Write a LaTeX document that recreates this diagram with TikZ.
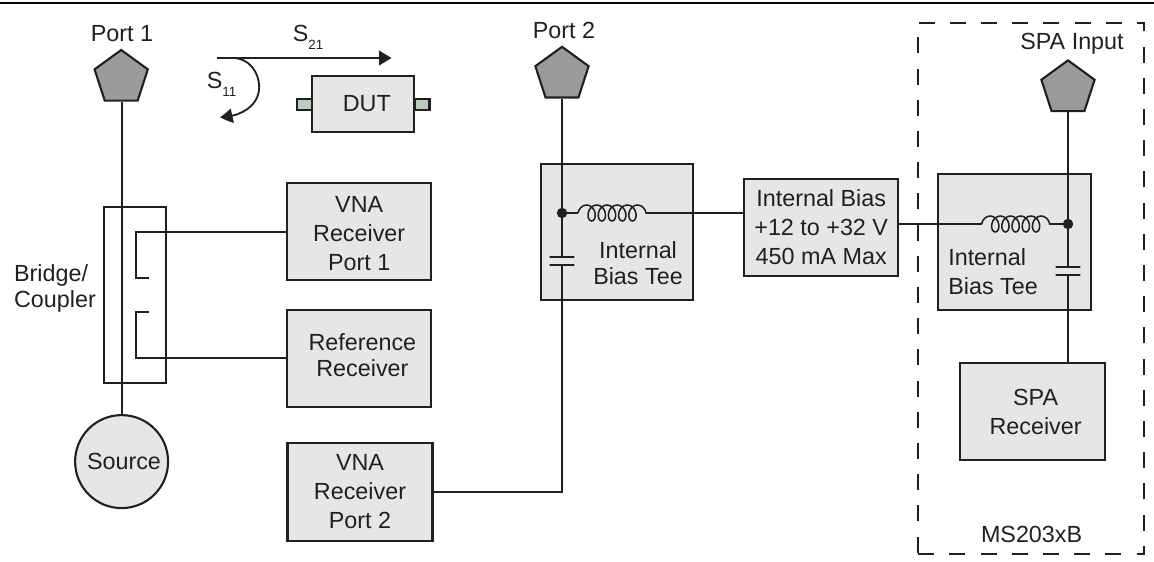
\documentclass[tikz,border=0pt]{standalone}
\usepackage{fontspec}
\setmainfont{Liberation Sans}
\usetikzlibrary{arrows.meta,positioning,shapes.geometric,decorations.pathmorphing,bending}
\definecolor{inkK}{RGB}{35,31,32}
\definecolor{boxG}{RGB}{229,231,230}
\definecolor{portG}{RGB}{154,155,157}
\definecolor{stubG}{RGB}{188,203,192}
\newcommand{\Sparam}[1]{S\raisebox{-5.5pt}{\fontsize{9.5}{10}\selectfont #1}}

\begin{document}
\begin{tikzpicture}[
    every node/.style={font=\fontsize{16.6}{20.6}\selectfont, text=inkK},
    box/.style={draw=inkK, line width=1.5pt, rectangle, inner sep=0pt,
                fill=boxG, align=center},
    port/.style={draw=inkK, line width=1.5pt, regular polygon, regular polygon sides=5,
                inner sep=0pt, minimum size=1.4cm, fill=portG},
    stub/.style={draw=inkK, line width=1.5pt, rectangle, inner sep=0pt,
                minimum width=3.75mm, minimum height=2.75mm, fill=stubG},
    plate/.style={draw=inkK, line width=1.3pt, rectangle, inner sep=0pt, outer sep=0pt,
                minimum width=6.2mm, minimum height=0pt},
    junction/.style={circle, fill=inkK, inner sep=0pt, minimum size=2.6mm},
    wire/.style={draw=inkK, line width=1.3pt},
    coilwire/.style={wire, line width=1.1pt, decorate, decoration={coil, aspect=0.75,
                amplitude=2mm, segment length=2.55mm, pre length=0mm, post length=0mm}},
    arrow/.style={-{Triangle[length=3.1mm,width=3.6mm,bend]}, draw=inkK, line width=1.3pt},
    tag/.style={inner sep=0pt, align=center},
    tighttag/.style={tag, font=\fontsize{16.6}{18.5}\selectfont}
]
  \useasboundingbox (0,0) rectangle (28.85,-14.05);

  % --- Rule along the top edge ---
  \coordinate (ruleL) at (0,-0.07);
  \coordinate (ruleR) at (28.85,-0.07);
  \draw[line width=1.7pt, draw=black] (ruleL) -- (ruleR);

  % --- Dashed instrument group ---
  \node[draw=inkK, line width=1.4pt, dash pattern=on 4mm off 3.8mm, rectangle, inner sep=0pt,
        minimum width=56.5mm, minimum height=132.9mm] (group) at (25.78,-7.21) {};
  \node[tag] (groupName) at (25.79,-13.35) {MS203xB};

  % --- Ports ---
  \node[port] (port1) at (3.03,-1.95) {};
  \node[port] (port2) at (14.05,-1.87) {};
  \node[port] (spaIn) at (26.7,-2.21) {};
  \node[tag] (port1Name) at (3.05,-0.83) {Port 1};
  \node[tag] (port2Name) at (14.1,-0.77) {Port 2};
  \node[tag] (spaInName) at (26.8,-1.09) {SPA Input};

  % --- DUT with its two stubs ---
  \node[stub] (dutL) at (7.61,-2.62) {};
  \node[stub] (dutR) at (10.55,-2.62) {};
  \node[box, minimum width=25.6mm, minimum height=14.1mm] (dut) at (9.08,-2.6) {};
  \node[tag] (dutName) at (9.17,-2.6) {DUT};

  % --- S-parameter arrows ---
  \coordinate (s21A) at (5.43,-1.45);
  \coordinate (s21B) at (9.79,-1.45);
  \coordinate (s11A) at (5.83,-1.45);
  \coordinate (s11M) at (6.48,-2.18);
  \coordinate (s11B) at (5.5,-2.93);
  \draw[arrow] (s21A) -- (s21B);
  \draw[arrow] (s11A) to[out=0,in=90] (s11M) to[out=-90,in=0] (s11B);
  \node[tag] (s21Name) at (7.7,-0.93) {\Sparam{21}};
  \node[tag] (s11Name) at (5.54,-2.1) {\Sparam{11}};

  % --- Receivers ---
  \node[box, minimum width=36mm, minimum height=24.25mm] (vna1) at (8.975,-5.79) {};
  \node[tag] (vna1Name) at (8.98,-5.84) {VNA\\Receiver\\Port 1};
  \node[box, minimum width=36.1mm, minimum height=24.2mm] (refRx) at (8.97,-8.96) {};
  \node[tighttag] (refRxName) at (9.06,-8.89) {Reference\\Receiver};
  \node[box, minimum width=36.25mm, minimum height=24.35mm] (vna2) at (9.0,-12.3)
    {VNA\\Receiver\\Port 2};

  % --- Source and bridge ---
  \node[box, circle, minimum size=23.25mm] (source) at (3.04,-11.54) {};
  \node[tag] (sourceName) at (3.1,-11.53) {Source};
  \node[draw=inkK, line width=1.5pt, rectangle, inner sep=0pt,
        minimum width=15.4mm, minimum height=44.1mm] (bridge) at (3.38,-7.38) {};
  \node[tighttag, align=left] (bridgeName) at (1.375,-7.22) {Bridge/\\Coupler};

  % --- Bias tees and bias supply ---
  \node[box, minimum width=38mm, minimum height=34mm] (teeA) at (15.42,-5.8) {};
  \node[tighttag] (teeAName) at (15.95,-6.58) {Internal\\Bias Tee};
  \node[box, minimum width=38.6mm, minimum height=24.2mm] (bias) at (20.53,-5.68)
    {\fontsize{16.6}{18}\selectfont Internal Bias\\+12 to +32 V\\450 mA Max};
  \node[box, minimum width=38.1mm, minimum height=34.2mm] (teeB) at (25.36,-6.05) {};
  \node[tag, align=left, anchor=west] (teeBName) at (23.7,-6.79) {Internal\\Bias Tee};
  \node[box, minimum width=36.25mm, minimum height=24.25mm] (spaRx) at (25.82,-10.295) {};
  \node[tag] (spaRxName) at (25.89,-10.3) {SPA\\Receiver};

  % --- Tee parts ---
  \node[junction] (dotA) at (14.05,-5.325) {};
  \node[junction] (dotB) at (26.7,-5.6) {};
  \node[plate] (capAtop) at (14.05,-6.42) {};
  \node[plate] (capAbot) at (14.05,-6.625) {};
  \node[plate] (capBtop) at (26.7,-6.67) {};
  \node[plate] (capBbot) at (26.7,-6.875) {};
  \coordinate (coilAin)  at (14.45,-5.325);
  \coordinate (coilAout) at (16.2,-5.325);
  \coordinate (coilBin)  at (24.54,-5.6);
  \coordinate (coilBout) at (26.35,-5.6);

  % --- Main through lines ---
  \draw[wire] (source.north |- port1.south) -- (source.north);
  \draw[wire] (port2.south) -- (dotA) -- (capAtop);
  \draw[wire] (capAbot) |- (vna2.east);
  \draw[wire] (spaIn.south) -- (dotB) -- (capBtop);
  \draw[wire] (capBbot) -- (capBbot |- spaRx.north);

  % --- Bias path with the two coils ---
  \draw[wire] (dotA) -- (coilAin);
  \draw[coilwire] (coilAin) -- (coilAout);
  \draw[wire] (coilAout) -- (bias.west |- coilAout);
  \draw[wire] (bias.east |- coilBin) -- (coilBin);
  \draw[coilwire] (coilBin) -- (coilBout);
  \draw[wire] (coilBout) -- (dotB);

  % --- Coupled arms of the bridge ---
  \coordinate (armUp)     at (3.4,-6.96);
  \coordinate (armUpEnd)  at (3.725,-6.96);
  \coordinate (armLow)    at (3.4,-7.81);
  \coordinate (armLowEnd) at (3.725,-7.81);
  \draw[wire] (vna1.west) -| (armUp) -- (armUpEnd);
  \draw[wire] (refRx.west) -| (armLow) -- (armLowEnd);
\end{tikzpicture}
\end{document}
